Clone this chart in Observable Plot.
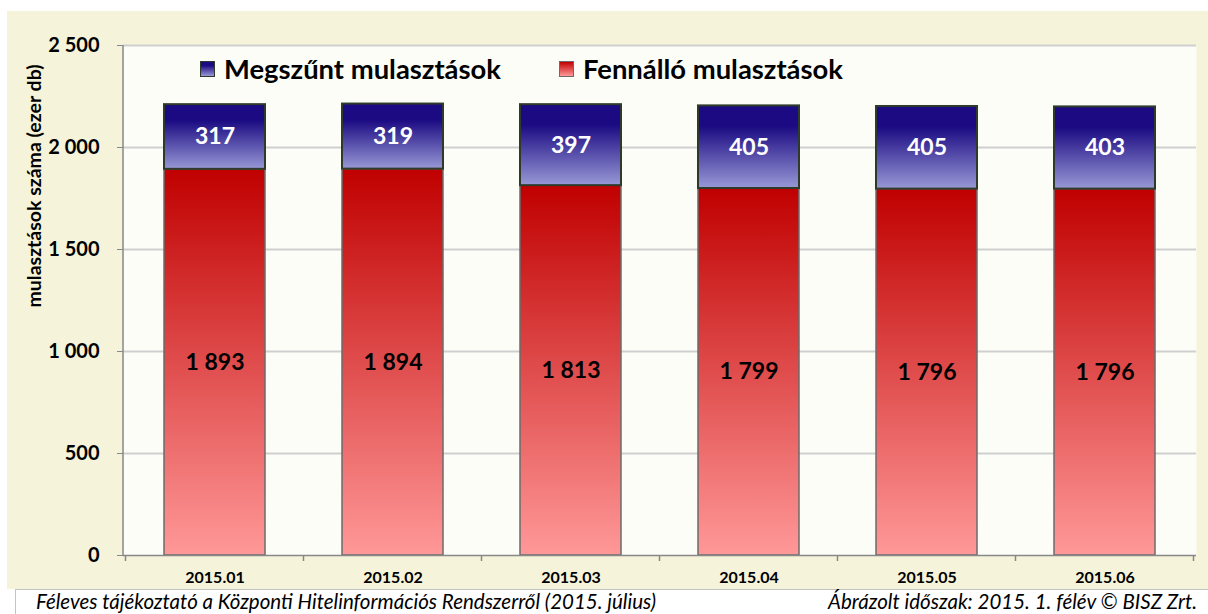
<!DOCTYPE html>
<html><head><meta charset="utf-8">
<script src="https://cdn.jsdelivr.net/npm/d3@7"></script>
<script src="https://cdn.jsdelivr.net/npm/@observablehq/plot@0.6"></script>
<style>
body{margin:0;background:#fff;font-family:Lato,sans-serif;}
#wrap{position:relative;width:1208px;height:614px;overflow:hidden;background:#fff;}
#chart{position:absolute;left:7px;top:11px;}
#ylabel{position:absolute;left:33px;top:186px;transform:translate(-50%,-50%) rotate(-90deg);font-weight:700;font-size:19.5px;white-space:nowrap;color:#000;}
.leg{position:absolute;top:52px;display:flex;align-items:center;font-weight:700;font-size:27.4px;color:#000;white-space:nowrap;}
.sw{width:15px;height:16px;margin-right:9px;box-sizing:border-box;}
#caption{position:absolute;left:15px;top:589px;width:1200px;height:30px;background:#fff;border:1px solid #c4c4c4;box-sizing:border-box;}
#caption span{position:absolute;top:-1px;font-style:italic;font-size:20.5px;color:#000;white-space:nowrap;}
</style></head>
<body>
<div id="wrap">
  <div id="chart"></div>
  <div id="ylabel"></div>
  <div id="legend"></div>
  <div id="caption"><span id="capL"></span><span id="capR"></span></div>
</div>
<script>
const months = ["2015.01","2015.02","2015.03","2015.04","2015.05","2015.06"];
const fennallo = [1893,1894,1813,1799,1796,1796];
const megszunt = [317,319,397,405,405,403];
const yTicks = [0,500,1000,1500,2000,2500];
const seriesNames = ["Megszűnt mulasztások","Fennálló mulasztások"];
const yLabel = "mulasztások száma (ezer db)";
const captionLeft = "Féleves tájékoztató a Központi Hitelinformációs Rendszerről (2015. július)";
const captionRight = "Ábrázolt időszak: 2015. 1. félév © BISZ Zrt.";

const rows = months.map((m,i)=>({month:m, f:fennallo[i], m:megszunt[i]}));
const fmt = v => d3.format(",")(v).replace(/,/g," ");

const plot = Plot.plot({
  width:1201, height:578,
  marginTop:34, marginLeft:116, marginRight:12, marginBottom:34,
  style:{background:"#f5f3d9", fontFamily:"Lato, sans-serif", color:"#000", overflow:"visible"},
  x:{domain:months, paddingInner:0.43, paddingOuter:0.215, axis:null},
  y:{domain:[0,2500], axis:null},
  marks:[
    Plot.frame({fill:"#fdfdf8", stroke:null}),
    Plot.ruleY(yTicks.slice(1), {stroke:"#cfcfcf", strokeWidth:1.8}),
    Plot.barY(rows,{x:"month", y1:0, y2:"f", fill:"url(#gred)", stroke:"#6b6b6b", strokeWidth:1.5}),
    Plot.barY(rows,{x:"month", y1:"f", y2:d=>d.f+d.m, fill:"url(#gblue)", stroke:"#2f3b2a", strokeWidth:2}),
    Plot.text(rows,{x:"month", y:d=>d.f/2, text:d=>fmt(d.f), fontSize:23, fontWeight:"bold", fill:"#000"}),
    Plot.text(rows,{x:"month", y:d=>d.f+d.m/2, text:d=>fmt(d.m), fontSize:23, fontWeight:"bold", fill:"#fff"}),
    Plot.axisY({ticks:yTicks, tickFormat:fmt, tickSize:6, tickPadding:18, fontSize:20, fontWeight:"bold", stroke:"#888", fill:"#000", label:null}),
    Plot.axisX({tickSize:0, tickPadding:16, fontSize:16, fontWeight:"bold", fill:"#000", label:null}),
    Plot.ruleY([0], {stroke:"#888", strokeWidth:1.5})
  ]
});
document.getElementById("chart").appendChild(plot);

const svg = d3.select(plot);
const defs = svg.insert("defs", ":first-child");
const gr = defs.append("linearGradient").attr("id","gred").attr("x1",0).attr("y1",0).attr("x2",0).attr("y2",1);
gr.append("stop").attr("offset","0").attr("stop-color","#c00000");
gr.append("stop").attr("offset","1").attr("stop-color","#ff9898");
const gb = defs.append("linearGradient").attr("id","gblue").attr("x1",0).attr("y1",0).attr("x2",0).attr("y2",1);
gb.append("stop").attr("offset","0").attr("stop-color","#1b0a82");
gb.append("stop").attr("offset","0.25").attr("stop-color","#1b0a82");
gb.append("stop").attr("offset","1").attr("stop-color","#9898d6");

// axis lines and category boundary ticks from the plot's own scales
const xs = plot.scale("x"), ys = plot.scale("y");
const y0 = ys.apply(0), yTop = ys.apply(2500);
const left = xs.range[0];
const bounds = months.map(m => xs.apply(m) + xs.bandwidth/2 - xs.step/2);
bounds.push(xs.apply(months[months.length-1]) + xs.bandwidth/2 + xs.step/2);
const g = svg.append("g").attr("stroke","#888").attr("stroke-width",1.5);
g.append("line").attr("x1",left).attr("x2",left).attr("y1",yTop).attr("y2",y0);
g.selectAll(".bt").data(bounds).join("line").attr("x1",d=>d).attr("x2",d=>d).attr("y1",y0).attr("y2",y0+6);

// y label
document.getElementById("ylabel").textContent = yLabel;

// legend
const legPos = [200, 559];
const legendDiv = document.getElementById("legend");
const grads = [["linear-gradient(#1b0a82 25%, #9898d6)","#2f3b2a"],["linear-gradient(#c00000, #ff9898)","#6b6b6b"]];
seriesNames.forEach((name,i)=>{
  const d = document.createElement("div");
  d.className = "leg"; d.style.left = legPos[i]+"px";
  const s = document.createElement("div"); s.className="sw";
  s.style.background = grads[i][0]; s.style.border = "1.5px solid "+grads[i][1];
  const t = document.createElement("span"); t.textContent = name;
  d.appendChild(s); d.appendChild(t); legendDiv.appendChild(d);
});

// caption
const cl = document.getElementById("capL"), cr = document.getElementById("capR");
cl.textContent = captionLeft; cl.style.left = "20px";
cr.textContent = captionRight; cr.style.right = "17px";
</script>
</body></html>
